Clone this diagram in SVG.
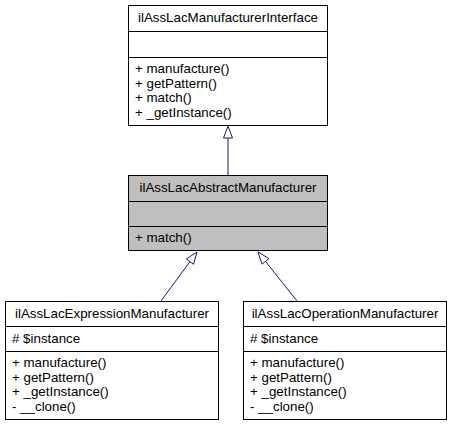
<svg xmlns="http://www.w3.org/2000/svg" width="453" height="427" viewBox="0 0 453 427">
<style>
rect.box{fill:#ffffff;stroke:#000000;stroke-width:1}
rect.cur{fill:#bfbfbf;stroke:#000000;stroke-width:1}
line.sep{stroke:#000000;stroke-width:1}
text{font-family:"Liberation Sans",Arial,Helvetica,sans-serif;font-size:13.33px;fill:#000000}
text.t{text-anchor:middle}
.edge{stroke:#191970;stroke-width:1;fill:none}
.head{stroke:#191970;stroke-width:1;fill:#ffffff}
</style>
<rect width="453" height="427" fill="#ffffff"/>
<g id="connectors">
<line class="edge" x1="228" y1="138" x2="228" y2="175"/>
<polygon class="head" points="228,126 232.5,138 223.5,138"/>
<line class="edge" x1="189.9" y1="261.7" x2="161" y2="301"/>
<polygon class="head" points="197,252 193.5,264.3 186.3,259"/>
<line class="edge" x1="265.5" y1="261.4" x2="297" y2="301"/>
<polygon class="head" points="258,252 269,258.6 262,264.2"/>
</g>
<g id="node_interface">
<rect class="box" x="128.5" y="5.5" width="199" height="120"/>
<line class="sep" x1="128.5" y1="31.5" x2="327.5" y2="31.5"/>
<line class="sep" x1="128.5" y1="57.5" x2="327.5" y2="57.5"/>
<text class="t" x="228" y="22">ilAssLacManufacturerInterface</text>
<text x="135" y="73">+ manufacture()</text>
<text x="135" y="87.5">+ getPattern()</text>
<text x="135" y="102">+ match()</text>
<text x="135" y="116.5">+ _getInstance()</text>
</g>
<g id="node_abstract">
<rect class="cur" x="128.5" y="175.5" width="199" height="75"/>
<line class="sep" x1="128.5" y1="201.5" x2="327.5" y2="201.5"/>
<line class="sep" x1="128.5" y1="226.5" x2="327.5" y2="226.5"/>
<text class="t" x="228" y="192">ilAssLacAbstractManufacturer</text>
<text x="135" y="242">+ match()</text>
</g>
<g id="node_expression">
<rect class="box" x="5.5" y="301.5" width="213" height="118"/>
<line class="sep" x1="5.5" y1="326.5" x2="218.5" y2="326.5"/>
<line class="sep" x1="5.5" y1="351.5" x2="218.5" y2="351.5"/>
<text class="t" x="112" y="318">ilAssLacExpressionManufacturer</text>
<text x="12" y="343"># $instance</text>
<text x="12" y="367">+ manufacture()</text>
<text x="12" y="381.5">+ getPattern()</text>
<text x="12" y="396">+ _getInstance()</text>
<text x="12" y="410.5">- __clone()</text>
</g>
<g id="node_operation">
<rect class="box" x="243.5" y="301.5" width="203" height="118"/>
<line class="sep" x1="243.5" y1="326.5" x2="446.5" y2="326.5"/>
<line class="sep" x1="243.5" y1="351.5" x2="446.5" y2="351.5"/>
<text class="t" x="345" y="318">ilAssLacOperationManufacturer</text>
<text x="250" y="343"># $instance</text>
<text x="250" y="367">+ manufacture()</text>
<text x="250" y="381.5">+ getPattern()</text>
<text x="250" y="396">+ _getInstance()</text>
<text x="250" y="410.5">- __clone()</text>
</g>
</svg>
